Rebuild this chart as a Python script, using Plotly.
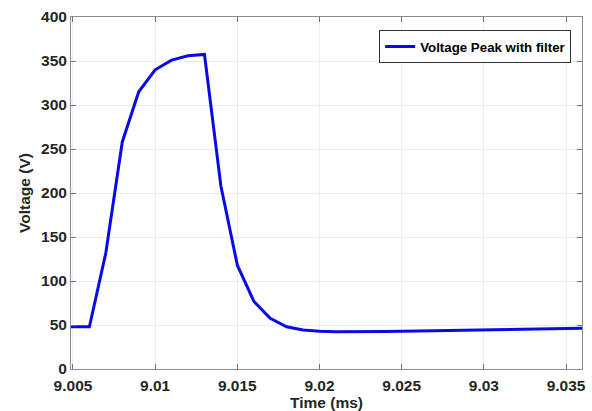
import plotly.graph_objects as go

# Filtered voltage peak, sampled every microsecond (time in ms)
time_ms = [9.00488, 9.006, 9.007, 9.008, 9.009, 9.010, 9.011, 9.012, 9.013,
           9.014, 9.015, 9.016, 9.017, 9.018, 9.019, 9.020, 9.021, 9.022,
           9.024, 9.026, 9.028, 9.030, 9.032, 9.034, 9.036]
voltage_v = [48, 48, 132, 258, 315, 340, 351, 356, 357.5,
             208, 118, 77, 57.5, 48, 44.3, 42.8, 42.3, 42.3,
             42.7, 43.2, 43.8, 44.4, 45.0, 45.6, 46.2]

x_ticks = [9.005, 9.01, 9.015, 9.02, 9.025, 9.03, 9.035]
x_tick_text = ["9.005", "9.01", "9.015", "9.02", "9.025", "9.03", "9.035"]
y_ticks = [0, 50, 100, 150, 200, 250, 300, 350, 400]

font_family = "Liberation Sans, Arial, sans-serif"

fig = go.Figure()
fig.add_trace(go.Scatter(
    x=time_ms, y=voltage_v, mode="lines",
    name="<b>Voltage Peak with filter</b>",
    line=dict(color="#0a0ae6", width=3),
))

axis_common = dict(
    showline=True, linecolor="#8c8c8c", linewidth=1, mirror="ticks",
    ticks="inside", ticklen=5, tickcolor="#6e6e6e", tickwidth=1,
    showgrid=True, gridcolor="#ebebeb", gridwidth=1, zeroline=False,
    tickfont=dict(family=font_family, size=15.5, color="#262626"),
    automargin=False,
)

fig.update_layout(
    width=592, height=411,
    margin=dict(l=71, r=10, t=17, b=42),
    paper_bgcolor="white", plot_bgcolor="white",
    font=dict(family=font_family, color="#262626"),
    showlegend=True,
    legend=dict(
        x=0.603, y=0.962, xanchor="left", yanchor="top",
        bgcolor="white", bordercolor="#333333", borderwidth=1,
        font=dict(family=font_family, size=13.3, color="#000000"),
        itemwidth=30, tracegroupgap=0,
    ),
    xaxis=dict(
        range=[9.00488, 9.03597],
        tickvals=x_ticks, ticktext=["<b>%s</b>" % t for t in x_tick_text],
        ticklabelstandoff=2,
        title=dict(text="<b>Time (ms)</b>", standoff=0,
                   font=dict(family=font_family, size=15.5, color="#262626")),
        **axis_common,
    ),
    yaxis=dict(
        range=[0, 400],
        tickvals=y_ticks, ticktext=["<b>%d</b>" % v for v in y_ticks],
        title=dict(text="<b>Voltage (V)</b>", standoff=6,
                   font=dict(family=font_family, size=15.5, color="#262626")),
        **axis_common,
    ),
)

fig.write_html("out.html")
